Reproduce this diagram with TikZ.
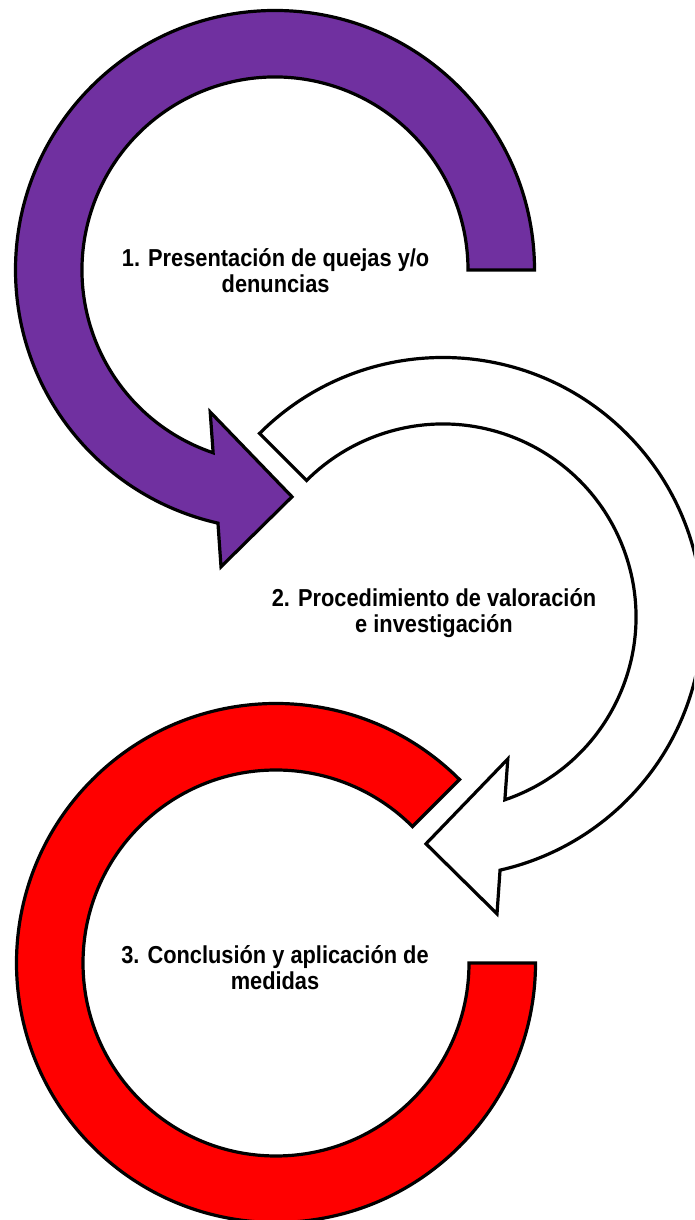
\documentclass[tikz,border=0pt]{standalone}
\usepackage{fontspec}
\newfontfamily\lblfont{Liberation Sans}[FakeStretch=0.89]
\usetikzlibrary{calc}
\definecolor{purp}{HTML}{7030A0}
\definecolor{redf}{HTML}{FF0000}
\begin{document}
\begin{tikzpicture}[x=1pt,y=1pt,
  shapeline/.style={draw=black,line width=3.2pt,line join=miter},
  lbl/.style={font=\lblfont\bfseries\fontsize{24.5}{26}\selectfont,align=center,inner sep=0pt,anchor=base}]
\useasboundingbox (0,0) rectangle (694,1220);
\fill[white] (0,0) rectangle (694,1220);
\clip (0,0) rectangle (694,1220);
\coordinate (P) at (275,950);
\coordinate (W) at (443,603);
\coordinate (R) at (276,257);
% arrow 2 (white)
\path[shapeline,fill=white] ($(W)+(135:259.5pt)$) arc[start angle=135,end angle=-77.3,radius=259.5pt]
  -- ($(W)+(54,-296.8)$) -- ($(W)+(-17,-226.8)$) -- ($(W)+(64.8,-142)$)
  -- ($(W)+(-71.3:193pt)$) arc[start angle=-71.3,end angle=135,radius=193pt] -- cycle;
% arrow 1 (purple)
\path[shapeline,fill=purp] ($(P)+(0:259.5pt)$) arc[start angle=0,end angle=257.3,radius=259.5pt]
  -- ($(P)+(-54,-296.8)$) -- ($(P)+(17,-226.8)$) -- ($(P)+(-64.8,-142)$)
  -- ($(P)+(251.3:193pt)$) arc[start angle=251.3,end angle=0,radius=193pt] -- cycle;
% arc 3 (red)
\path[shapeline,fill=redf] ($(R)+(45:259.5pt)$) arc[start angle=45,end angle=360,radius=259.5pt]
  -- ($(R)+(0:193pt)$) arc[start angle=360,end angle=45,radius=193pt] -- cycle;
\node[lbl] (t1) at (275.6,927) {1. Presentación de quejas y/o\\denuncias};
\node[lbl] (t2) at (434,587) {2. Procedimiento de valoración\\e investigación};
\node[lbl] (t3) at (275,230) {3. Conclusión y aplicación de\\medidas};
\end{tikzpicture}
\end{document}
